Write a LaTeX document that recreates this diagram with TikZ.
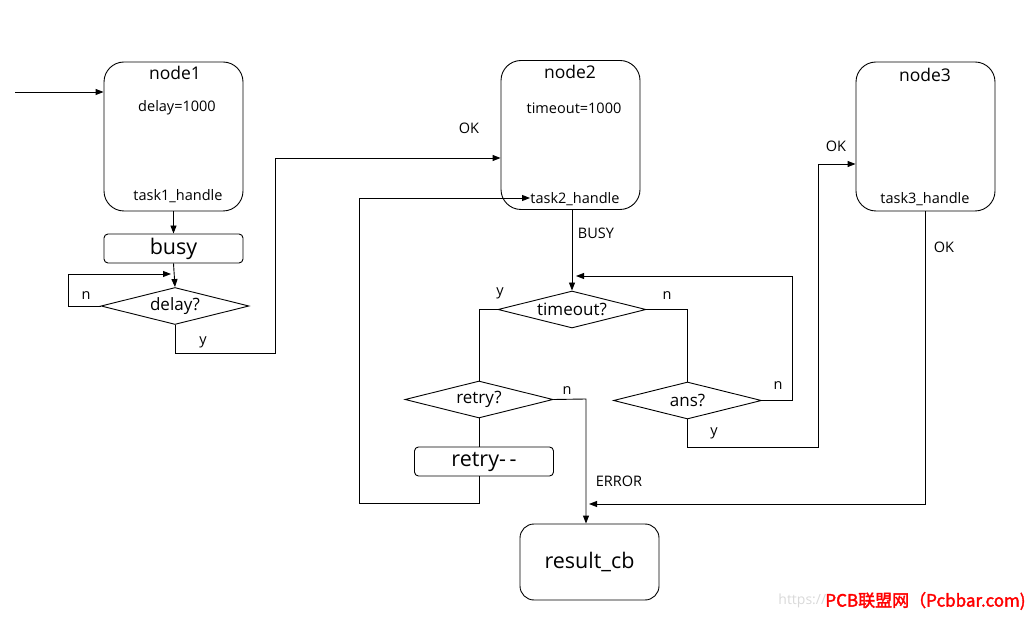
\documentclass[tikz,border=0pt]{standalone}
\usepackage{fontspec}
\setmainfont{Open Sans}
\newfontfamily\cjk[AutoFakeBold=2]{Noto Sans CJK SC}
\usetikzlibrary{arrows.meta,shapes.geometric,calc}
\begin{document}
\begin{tikzpicture}[x=1pt,y=-1pt,line width=0.9pt,
  big/.style={draw,rounded corners=20pt,minimum width=139pt,minimum height=149pt,inner sep=0pt},
  bar/.style={draw,rounded corners=4pt,minimum width=139pt,minimum height=29pt,inner sep=0pt,font=\fontsize{21.5}{22}\selectfont},
  dec/.style={draw,diamond,aspect=4,minimum width=148pt,minimum height=37pt,inner sep=0pt,font=\fontsize{17}{18}\selectfont},
  arr/.style={-{Triangle[length=8pt,width=6pt]}},
  ttl/.style={inner sep=0pt,font=\fontsize{17.5}{18}\selectfont},
  txt/.style={inner sep=0pt,font=\fontsize{14.5}{15}\selectfont},
  lbl/.style={inner sep=0pt,font=\fontsize{14.5}{15}\selectfont},
  sml/.style={inner sep=0pt,font=\fontsize{14.5}{15}\selectfont}]
\useasboundingbox (0,0) rectangle (1031,617);
% node1
\node[big] (n1) at (173.5,136.5) {};
\node[ttl] (n1t) at (175,73) {node1};
\node[txt] (n1d) at (177,108) {delay=1000};
\node[txt] (n1h) at (178,196) {task1\_handle};
\node[bar] (busy) at (173.5,248.5) {busy};
\node[dec] (dly) at (175,306) {delay?};
% node2
\node[big] (n2) at (570.5,135) {};
\node[ttl] (n2t) at (570,72) {node2};
\node[txt] (n2d) at (574,108) {timeout=1000};
\node[txt] (n2h) at (575,199) {task2\_handle};
\node[dec] (to) at (572,309.5) {timeout?};
\node[dec] (rt) at (479,399.5) {retry?};
\node[dec] (ans) at (687.5,400.5) {ans?};
\node[bar] (rdec) at (484,461.5) {retry-\,-};
% node3
\node[big] (n3) at (925.5,136.5) {};
\node[ttl] (n3t) at (925,75) {node3};
\node[txt] (n3h) at (925,199) {task3\_handle};
% result
\node[draw,rounded corners=14pt,minimum width=139pt,minimum height=76pt,inner sep=0pt,font=\fontsize{21.5}{22}\selectfont] (res) at (589.5,562) {result\_cb};
% coordinates
\coordinate (in) at (15,92);
\coordinate (nl) at (68,274);
\coordinate (y1) at (275,353);
\coordinate (y1b) at (275,158);
\coordinate (al) at (792,276);
\coordinate (ay1) at (818,447);
\coordinate (ay2) at (818,164);
\coordinate (rn) at (586,399);
\coordinate (rb1) at (359,503);
\coordinate (rb2) at (359,198);
\coordinate (o3) at (589,504);
% connectors
\draw[arr] (in) -- (n1.west |- in);
\draw[arr] (n1.south) -- (busy.north);
\draw[arr] (busy.south) -- (dly.north);
\draw[arr] (dly.west) -| (nl) -- ($(dly.north |- nl)+(-4,0)$);
\draw[arr] (dly.south) |- (y1) -- (y1b) -- (n2.west |- y1b);
\draw[arr] (to.north |- n2.south) -- (to.north);
\draw (to.west) -| (rt.north);
\draw (to.east) -| (ans.north);
\draw[arr] (ans.east) -| (al) -- ($(to.north |- al)+(4,0)$);
\draw[arr] (ans.south) |- (ay1) -- (ay2) -- (n3.west |- ay2);
\draw[arr] (rt.east) -- (rn) -- (rn |- res.north);
\draw (rt.south) -- (rt.south |- rdec.north);
\draw[arr] (rt.south |- rdec.south) |- (rb1) -- (rb2) -- (n2h.west |- rb2);
\draw[arr] (n3.south) |- (o3);
% labels
\node[lbl] (l1) at (86,296) {n};
\node[lbl] (l2) at (203,342) {y};
\node[lbl] (l3) at (469,128) {OK};
\node[sml] (l4) at (596,233) {BUSY};
\node[lbl] (l5) at (500,293) {y};
\node[lbl] (l6) at (667,296) {n};
\node[lbl] (l7) at (778,386) {n};
\node[lbl] (l8) at (714,433) {y};
\node[lbl] (l9) at (836,146) {OK};
\node[lbl] (l10) at (567,391) {n};
\node[sml] (l11) at (619,481) {ERROR};
\node[lbl] (l12) at (944,247) {OK};
% watermark
\node[inner sep=0pt,anchor=west,text=black!15,font=\fontsize{14}{15}\selectfont] (wm1) at (778,601) {https://};
\node[inner sep=0pt,anchor=east,text=red,font=\cjk\bfseries\fontsize{17}{18}\selectfont] (wm2) at (1026,601) {PCB联盟网（Pcbbar.com)};
\end{tikzpicture}
\end{document}
